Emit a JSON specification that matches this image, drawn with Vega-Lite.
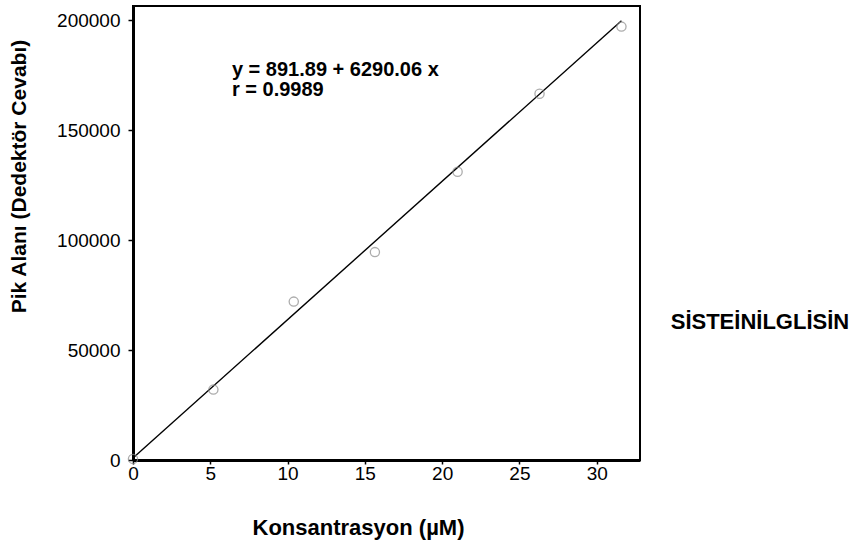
{
  "$schema": "https://vega.github.io/schema/vega-lite/v6.json",
  "width": 507,
  "height": 454,
  "autosize": {"type": "none"},
  "padding": {"left": 133, "top": 6, "right": 218, "bottom": 84},
  "background": "white",
  "config": {
    "font": "Liberation Sans",
    "view": {"stroke": "black", "strokeWidth": 2}
  },
  "datasets": {
    "fit": [
      {"x": 0, "y": 891.89},
      {"x": 31.6, "y": 199657}
    ],
    "points": [
      {"x": 0, "y": 500},
      {"x": 5.2, "y": 32000},
      {"x": 10.4, "y": 72000},
      {"x": 15.65, "y": 94500},
      {"x": 21.0, "y": 131000},
      {"x": 26.3, "y": 166500},
      {"x": 31.6, "y": 197000}
    ],
    "equation": [
      {"x": 6.4, "y": 177300, "text": "y = 891.89 + 6290.06 x"},
      {"x": 6.4, "y": 168200, "text": "r = 0.9989"}
    ],
    "compound": [
      {"x": 40.56, "y": 62700, "text": "SİSTEİNİLGLİSİN"}
    ]
  },
  "encoding": {
    "x": {
      "field": "x",
      "type": "quantitative",
      "scale": {"domain": [0, 32.8], "nice": false, "zero": false},
      "axis": {
        "title": "Konsantrasyon (µM)",
        "values": [0, 5, 10, 15, 20, 25, 30],
        "grid": false,
        "domainColor": "black",
        "domainWidth": 3,
        "tickColor": "black",
        "tickSize": 4,
        "tickWidth": 1.5,
        "labelFontSize": 19,
        "labelColor": "black",
        "labelPadding": 0,
        "labelFlush": false,
        "titleFontSize": 22,
        "titleFontWeight": "bold",
        "titleColor": "black",
        "titleX": 225,
        "titleY": 67,
        "titleBaseline": "middle"
      }
    },
    "y": {
      "field": "y",
      "type": "quantitative",
      "scale": {"domain": [0, 206364], "nice": false, "zero": false},
      "axis": {
        "title": "Pik Alanı (Dedektör Cevabı)",
        "values": [0, 50000, 100000, 150000, 200000],
        "format": "d",
        "grid": false,
        "domainColor": "black",
        "domainWidth": 3,
        "tickColor": "black",
        "tickSize": 5,
        "tickWidth": 1.5,
        "labelFontSize": 19,
        "labelColor": "black",
        "labelPadding": 8,
        "labelFlush": false,
        "titleFontSize": 21,
        "titleFontWeight": "bold",
        "titleColor": "black",
        "titleX": -114,
        "titleY": 170,
        "titleBaseline": "middle"
      }
    }
  },
  "layer": [
    {
      "data": {"name": "fit"},
      "mark": {"type": "line", "color": "black", "strokeWidth": 1.4}
    },
    {
      "data": {"name": "points"},
      "mark": {"type": "point", "shape": "circle", "filled": false, "color": "#8a8a8a", "size": 85, "strokeWidth": 1.3}
    },
    {
      "data": {"name": "equation"},
      "mark": {"type": "text", "align": "left", "baseline": "middle", "fontSize": 20, "fontWeight": "bold", "color": "black", "clip": false},
      "encoding": {"text": {"field": "text"}}
    },
    {
      "data": {"name": "compound"},
      "mark": {"type": "text", "align": "center", "baseline": "middle", "fontSize": 22, "fontWeight": "bold", "color": "black", "clip": false},
      "encoding": {"text": {"field": "text"}}
    }
  ]
}
